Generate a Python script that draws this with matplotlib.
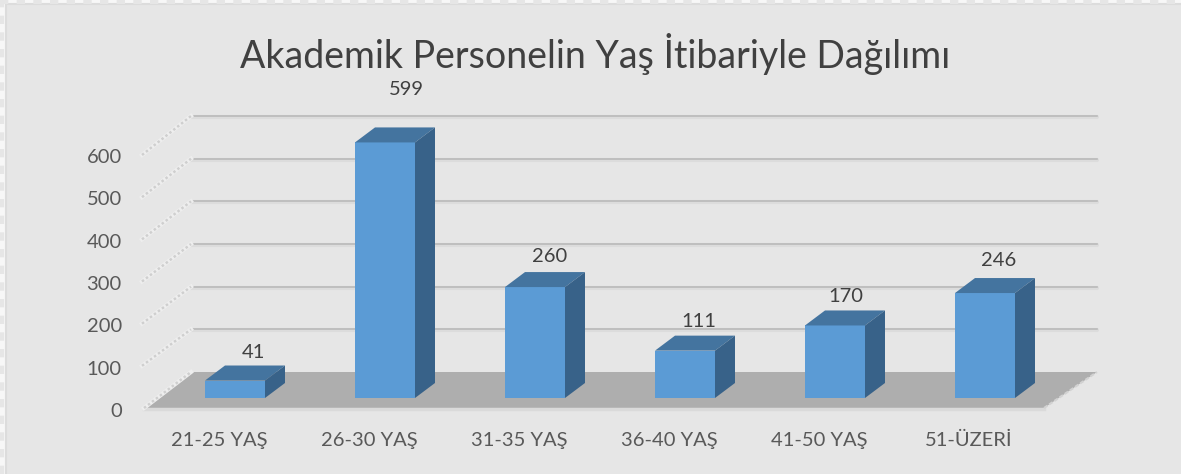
import matplotlib
matplotlib.use("Agg")
import matplotlib.pyplot as plt
from matplotlib.lines import Line2D
from matplotlib.patches import Polygon, Rectangle

plt.rcParams["font.family"] = ["Lato", "DejaVu Sans"]

# Chart data
categories = ["21-25 YAŞ", "26-30 YAŞ", "31-35 YAŞ", "36-40 YAŞ", "41-50 YAŞ", "51-ÜZERİ"]
values = [41, 599, 260, 111, 170, 246]
y_ticks = [0, 100, 200, 300, 400, 500, 600]
title = "Akademik Personelin Yaş İtibariyle Dağılımı"

W, H = 1181, 474
BG = "#E6E6E6"
FRONT = "#5B9BD5"
TOP = "#44749F"
SIDE = "#386289"
FLOOR = "#AEAEAE"
GRID = "#BABABA"
TEXT = "#595959"

fig = plt.figure(figsize=(W / 100, H / 100), dpi=100, facecolor="#F7F7F7")


def axes_px(left, right, top, bottom):
    return fig.add_axes([left / W, 1 - bottom / H, (right - left) / W, (bottom - top) / H])


# panel inside the dotted outer border, its right and bottom edges run off the figure
fig.add_artist(Rectangle((6 / W, -0.1), 1.1, 1.1 - 4 / H, transform=fig.transFigure,
                         facecolor=BG, edgecolor="#DCDCDC", lw=1.5, zorder=-5))
fig.add_artist(Line2D([0, 1], [1 - 1.5 / H, 1 - 1.5 / H], color="#E6E6E6", lw=3,
                      ls=(0, (2, 2)), zorder=-4))
fig.add_artist(Line2D([2 / W, 2 / W], [0, 1], color="#E6E6E6", lw=3,
                      ls=(0, (2, 2)), zorder=-4))

# front axis: tick labels only
ax = axes_px(144, 1044, 156, 410)
ax.set_xlim(-0.5, 5.5)
ax.set_ylim(0, 600)
ax.patch.set_alpha(0)
for s in ax.spines.values():
    s.set_visible(False)
ax.set_yticks(y_ticks)
ax.set_xticks(range(len(categories)))
ax.set_xticklabels(categories)
ax.tick_params(length=0, labelsize=14.5, labelcolor=TEXT)
ax.tick_params(axis="y", pad=16)
ax.tick_params(axis="x", pad=16)

# 3d layer: bars stand on v=0 at the bar baseline
ax3 = axes_px(144, 1044, 142, 398)
ax3.set_xlim(-0.5, 5.5)
ax3.set_ylim(0, 600)
ax3.axis("off")

px_x = 6 / 900       # category units per pixel
px_y = 600 / 256     # value units per pixel
dx, dy = 20 * px_x, 15 * px_y
wall_dy = 26 * px_y
wall_x0, wall_x1 = -0.5 + 47 * px_x, 5.5 + 53 * px_x
front_dy = -10 * px_y

# floor
ax3.add_patch(Polygon([(-0.5, front_dy), (wall_x0, wall_dy), (wall_x1, wall_dy), (5.5, front_dy)],
                      closed=True, facecolor=FLOOR, edgecolor="none", clip_on=False, zorder=1))
ax3.plot([-0.5, 5.5], [front_dy - 1.5, front_dy - 1.5], color="#DADADA", lw=2.5, clip_on=False, zorder=1)
ax3.plot([5.5, wall_x1], [front_dy, wall_dy], color="#D2D2D2", lw=1.5, ls=(0, (2, 1)), clip_on=False, zorder=1)

# gridlines on the back wall and the slanted ones on the side wall
for t in y_ticks:
    if t > 0:
        ax3.plot([wall_x0, wall_x1], [t + wall_dy - 2, t + wall_dy - 2], color="#DCDCDC", lw=3,
                 clip_on=False, zorder=1, solid_capstyle="round")
        ax3.plot([wall_x0, wall_x1], [t + wall_dy, t + wall_dy], color=GRID, lw=1.2, clip_on=False, zorder=1)
    x_f = -0.5 - (2 if t > 0 else 0) * px_x
    y_f = t * (253 / 256) + front_dy
    ax3.plot([x_f, wall_x0], [y_f, t + wall_dy], color="#EEEEEE", lw=3, clip_on=False, zorder=1.5)
    ax3.plot([x_f, wall_x0], [y_f, t + wall_dy], color="#CFCFCF", lw=1.8, ls=(0, (1, 1)), clip_on=False, zorder=1.5)

# bars
offset = 16 * px_x
width = 60 * px_x
nudge_x = [18, 21, 15, 14, 11, 14]
nudge_y = [28, 53, 31, 29, 29, 33]
positions = [i + offset for i in range(len(values))]
ax3.bar(positions, values, width=width, color=FRONT, zorder=3, clip_on=False)
for i, (x, v) in enumerate(zip(positions, values)):
    x0, x1 = x - width / 2, x + width / 2
    ax3.add_patch(Polygon([(x0, v), (x1, v), (x1 + dx, v + dy), (x0 + dx, v + dy)],
                          closed=True, facecolor=TOP, edgecolor="none", clip_on=False, zorder=3))
    ax3.add_patch(Polygon([(x1, 0), (x1 + dx, dy), (x1 + dx, v + dy), (x1, v)],
                          closed=True, facecolor=SIDE, edgecolor="none", clip_on=False, zorder=3))
    ax3.text(x + nudge_x[i] * px_x, v + nudge_y[i] * px_y, str(v), ha="center", va="center",
             fontsize=14.5, color="#404040", zorder=4, clip_on=False)

fig.text(595 / W, 1 - 54 / H, title, ha="center", va="center", fontsize=27, color="#404040")

fig.savefig("out.png", dpi=100, facecolor=fig.get_facecolor())
